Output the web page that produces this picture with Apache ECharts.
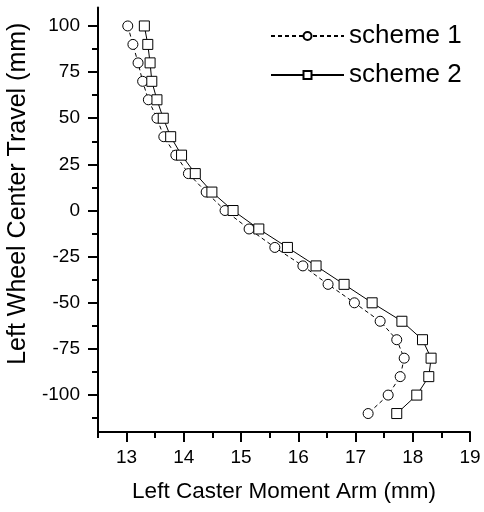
<!DOCTYPE html>
<html>
<head>
<meta charset="utf-8">
<script src="https://cdn.jsdelivr.net/npm/echarts@6/dist/echarts.min.js"></script>
<style>html,body{margin:0;padding:0;background:#fff}#c{width:484px;height:512px}</style>
</head>
<body>
<div id="c"></div>
<script>
const travel = [100, 90, 80, 70, 60, 50, 40, 30, 20, 10, 0, -10, -20, -30, -40, -50, -60, -70, -80, -90, -100, -110];
const scheme1 = [13.02, 13.11, 13.20, 13.28, 13.38, 13.53, 13.65, 13.86, 14.08, 14.39, 14.72, 15.14, 15.59, 16.08, 16.52, 16.98, 17.43, 17.72, 17.85, 17.78, 17.57, 17.22];
const scheme2 = [13.31, 13.37, 13.41, 13.44, 13.53, 13.64, 13.77, 13.96, 14.20, 14.49, 14.86, 15.31, 15.81, 16.31, 16.80, 17.29, 17.81, 18.17, 18.32, 18.28, 18.07, 17.72];
const xMajorTicks = [13, 14, 15, 16, 17, 18, 19];
const xMinorTicks = [12.5, 13.5, 14.5, 15.5, 16.5, 17.5, 18.5];
const yMajorTicks = [-100, -75, -50, -25, 0, 25, 50, 75, 100];
const yMinorTicks = [-112.5, -87.5, -62.5, -37.5, -12.5, 12.5, 37.5, 62.5, 87.5];
const seriesNames = ['scheme 1', 'scheme 2'];

const FONT = "'Liberation Sans', Arial, sans-serif";
const chart = echarts.init(document.getElementById('c'), null, {renderer: 'canvas'});

const axisLineStyle = {show: true, onZero: false, lineStyle: {color: '#000', width: 2}};
const baseX = {type: 'value', min: 12.5, max: 19, position: 'bottom', splitLine: {show: false}};
const baseY = {type: 'value', min: -120, max: 110, position: 'left', splitLine: {show: false}};

chart.setOption({
  animation: false,
  backgroundColor: '#fff',
  grid: {left: 98, right: 14, top: 7.5, bottom: 80, containLabel: false, outerBoundsMode: 'none'},
  legend: {
    orient: 'vertical', left: 265, top: 18, itemWidth: 73, itemHeight: 10, itemGap: 13,
    textStyle: {fontFamily: FONT, fontSize: 26, color: '#000'},
    data: seriesNames
  },
  xAxis: [
    Object.assign({}, baseX, {
      name: 'Left Caster Moment Arm (mm)', nameLocation: 'middle', nameGap: 48,
      nameTextStyle: {fontFamily: FONT, fontSize: 22.5, color: '#000'},
      axisLine: axisLineStyle,
      axisTick: {show: true, inside: false, length: 10, customValues: xMajorTicks, lineStyle: {color: '#000', width: 2}},
      axisLabel: {show: true, margin: 16, customValues: xMajorTicks, fontFamily: FONT, fontSize: 19, color: '#000'}
    }),
    Object.assign({}, baseX, {
      axisLine: {show: false, onZero: false},
      axisTick: {show: true, inside: false, length: 6, customValues: xMinorTicks, lineStyle: {color: '#000', width: 2}},
      axisLabel: {show: false}
    })
  ],
  yAxis: [
    Object.assign({}, baseY, {
      name: 'Left Wheel Center Travel (mm)', nameLocation: 'middle', nameGap: 48, nameRotate: 90,
      nameTextStyle: {fontFamily: FONT, fontSize: 25, color: '#000', padding: [0, 0, 0, 52]},
      axisLine: axisLineStyle,
      axisTick: {show: true, inside: false, length: 10, customValues: yMajorTicks, lineStyle: {color: '#000', width: 2}},
      axisLabel: {show: true, margin: 18, customValues: yMajorTicks, fontFamily: FONT, fontSize: 19, color: '#000'}
    }),
    Object.assign({}, baseY, {
      axisLine: {show: false, onZero: false},
      axisTick: {show: true, inside: false, length: 6, customValues: yMinorTicks, lineStyle: {color: '#000', width: 2}},
      axisLabel: {show: false}
    })
  ],
  series: [
    {
      name: seriesNames[0], type: 'line', xAxisIndex: 0, yAxisIndex: 0,
      data: travel.map((t, i) => [scheme1[i], t]),
      symbol: 'circle', symbolSize: 10,
      lineStyle: {color: '#000', width: 1, type: [4, 3]},
      itemStyle: {color: '#fff', borderColor: '#000', borderWidth: 1}
    },
    {
      name: seriesNames[1], type: 'line', xAxisIndex: 0, yAxisIndex: 0,
      data: travel.map((t, i) => [scheme2[i], t]),
      symbol: 'rect', symbolSize: 10,
      lineStyle: {color: '#000', width: 1, type: 'solid'},
      itemStyle: {color: '#fff', borderColor: '#000', borderWidth: 1}
    }
  ]
});
</script>
</body>
</html>
